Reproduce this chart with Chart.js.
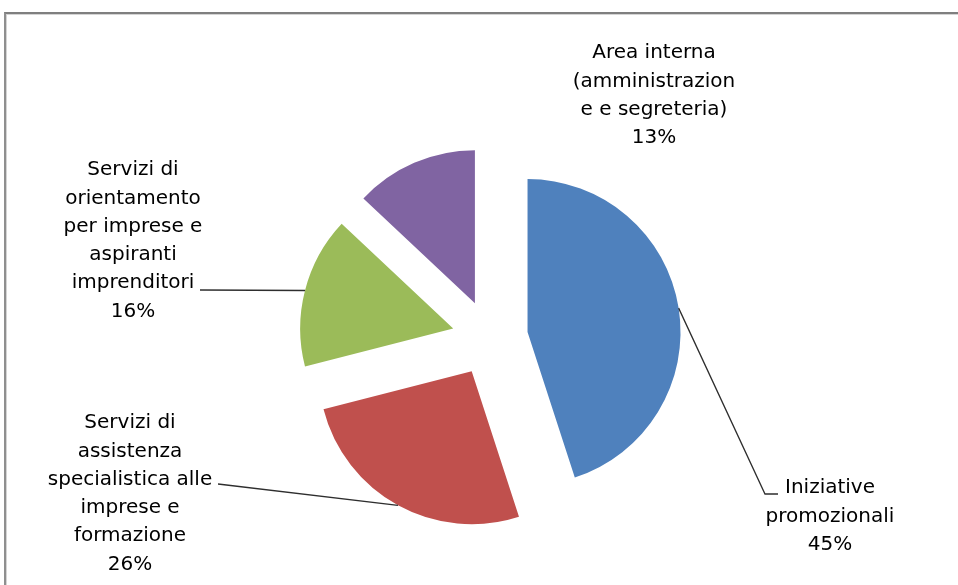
<!DOCTYPE html>
<html lang="it">
<head>
<meta charset="UTF-8">
<title>Ripartizione attività</title>
<script src="https://cdn.jsdelivr.net/npm/chart.js"></script>
<style>
  html, body { margin: 0; padding: 0; background: #fff; }
  .wrap { position: relative; width: 958px; height: 585px; overflow: hidden; }
  .wrap::before {
    content: '';
    position: absolute;
    left: 4px; top: 12px; right: -20px; bottom: -20px;
    border-top: 2px solid #7f7f7f;
    border-left: 2px solid #8f8f8f;
    box-shadow: inset 1px 1px 0 #d4d4d4;
  }
  canvas { position: absolute; left: 0; top: 0; }
</style>
</head>
<body>
<div class="wrap"><canvas id="pie" width="958" height="585"></canvas></div>
<script>
  // data
  const categories = [
    'Iniziative promozionali',
    'Servizi di assistenza specialistica alle imprese e formazione',
    'Servizi di orientamento per imprese e aspiranti imprenditori',
    'Area interna (amministrazione e segreteria)'
  ];
  const shares = [45, 26, 16, 13];
  const labelLines = [
    ['Iniziative', 'promozionali'],
    ['Servizi di', 'assistenza', 'specialistica alle', 'imprese e', 'formazione'],
    ['Servizi di', 'orientamento', 'per imprese e', 'aspiranti', 'imprenditori'],
    ['Area interna', '(amministrazion', 'e e segreteria)']
  ];
  const colors = ['#4F81BD', '#C0504D', '#9BBB59', '#8064A2'];

  // layout of the outside labels (centre of first line, leader end)
  const labelPlace = [
    { x: 830, y: 488, leader: [[765, 494], [778, 494]] },
    { x: 130, y: 423, leader: [[218, 484]] },
    { x: 133, y: 170, leader: [[200, 290]] },
    { x: 654, y: 53, leader: null }
  ];
  const lineHeight = 28.3;
  const explode = 38;

  const total = shares.reduce((a, b) => a + b, 0);

  const explodePlugin = {
    id: 'explode',
    afterDatasetsUpdate(chart) {
      chart.getDatasetMeta(0).data.forEach(el => {
        const mid = (el.startAngle + el.endAngle) / 2;
        el.x += Math.cos(mid) * explode;
        el.y += Math.sin(mid) * explode;
      });
    }
  };

  const labelPlugin = {
    id: 'outLabels',
    afterDatasetsDraw(chart) {
      const ctx = chart.ctx;
      const arcs = chart.getDatasetMeta(0).data;
      ctx.save();
      arcs.forEach((el, i) => {
        const place = labelPlace[i];
        if (place.leader) {
          const mid = (el.startAngle + el.endAngle) / 2;
          const sx = el.x + Math.cos(mid) * el.outerRadius;
          const sy = el.y + Math.sin(mid) * el.outerRadius;
          ctx.beginPath();
          ctx.moveTo(sx, sy);
          place.leader.forEach(p => ctx.lineTo(p[0], p[1]));
          ctx.strokeStyle = '#2e2e2e';
          ctx.lineWidth = 1.3;
          ctx.stroke();
        }
        const lines = labelLines[i].concat(Math.round(shares[i] / total * 100) + '%');
        ctx.fillStyle = '#000';
        ctx.font = '20px "DejaVu Sans"';
        ctx.textAlign = 'center';
        ctx.textBaseline = 'middle';
        lines.forEach((t, k) => ctx.fillText(t, place.x, place.y + k * lineHeight));
      });
      ctx.restore();
    }
  };

  new Chart(document.getElementById('pie'), {
    type: 'pie',
    data: {
      labels: categories,
      datasets: [{
        data: shares,
        backgroundColor: colors,
        borderWidth: 0
      }]
    },
    options: {
      responsive: false,
      animation: false,
      events: [],
      radius: 153,
      layout: { padding: { left: 22, top: 91, right: 0, bottom: 0 } },
      plugins: {
        legend: { display: false },
        tooltip: { enabled: false }
      }
    },
    plugins: [explodePlugin, labelPlugin]
  });
</script>
</body>
</html>
